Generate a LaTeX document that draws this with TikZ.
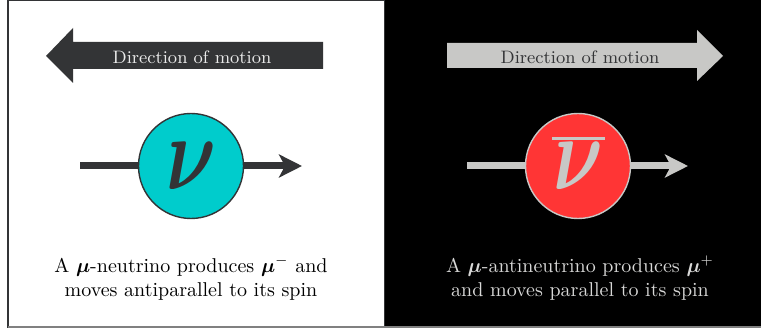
\RequirePackage{fix-cm}
\documentclass[tikz,border=0pt]{standalone}
\usepackage{amsmath}
\usepackage{bm}
\usepackage{graphicx}
\usetikzlibrary{arrows.meta}
\definecolor{darkgrey}{HTML}{333436}
\definecolor{lightgrey}{HTML}{C8C8C6}
\definecolor{nucyan}{HTML}{00CCCC}
\definecolor{nured}{HTML}{FF3535}
\newcommand{\nusym}{\scalebox{0.84}[1.15]{$\bm{\nu}$}}
\begin{document}
\begin{tikzpicture}[x=0.5pt,y=-0.5pt,
    spin/.style={line width=3.5pt,-{Stealth[length=11.5pt,width=11.5pt,inset=3pt]}},
    particle/.style={circle,minimum size=52.5pt,inner sep=0pt,line width=0.7pt,
      font=\fontsize{46}{46}\selectfont},
    caption/.style={align=center,font=\normalsize}]
  \useasboundingbox (0,0) rectangle (761,331);
  \fill [white] (0,0) rectangle (761,331);
  \draw [darkgrey,line width=0.6pt] (8,0) rectangle (385,327);
  \fill [black] (385,0) rectangle (761,327);
  \draw [gray,line width=1pt] (8,327) -- (761,327);
  % neutrino
  \fill [darkgrey] (46,56) -- (73,28) -- (73,42) -- (323,42) -- (323,69)
    -- (73,69) -- (73,83) -- cycle;
  \node [text=white!90!darkgrey,font=\small] (motionL) at (192,57) {Direction of motion};
  \coordinate (tailL) at (80,166);
  \coordinate (tipL) at (302,166);
  \draw [spin,darkgrey] (tailL) -- (tipL);
  \node [particle,fill=nucyan,draw=darkgrey,text=darkgrey] (nu) at (191,166)
    {\nusym};
  \node [caption] (textL) at (191,278)
    {A $\bm{\mu}$-neutrino produces $\bm{\mu}^-$ and\\
     moves antiparallel to its spin};
  % antineutrino
  \fill [lightgrey] (723,56) -- (697,30) -- (697,43) -- (447,43) -- (447,68)
    -- (697,68) -- (697,81) -- cycle;
  \node [text=darkgrey,font=\small] (motionR) at (580,57) {Direction of motion};
  \coordinate (tailR) at (467,166);
  \coordinate (tipR) at (688,166);
  \draw [spin,lightgrey] (tailR) -- (tipR);
  \node [particle,fill=nured,draw=lightgrey,text=lightgrey] (antinu) at (578,166)
    {\raisebox{-3.7pt}{\nusym}};
  \draw [lightgrey,line width=1.5pt] ([xshift=-13pt,yshift=13.5pt]antinu.center)
    -- ([xshift=13.5pt,yshift=13.5pt]antinu.center);
  \node [caption,text=lightgrey!70!white] (textR) at (580,278)
    {A $\bm{\mu}$-antineutrino produces $\bm{\mu}^+$\\
     and moves parallel to its spin};
\end{tikzpicture}
\end{document}
